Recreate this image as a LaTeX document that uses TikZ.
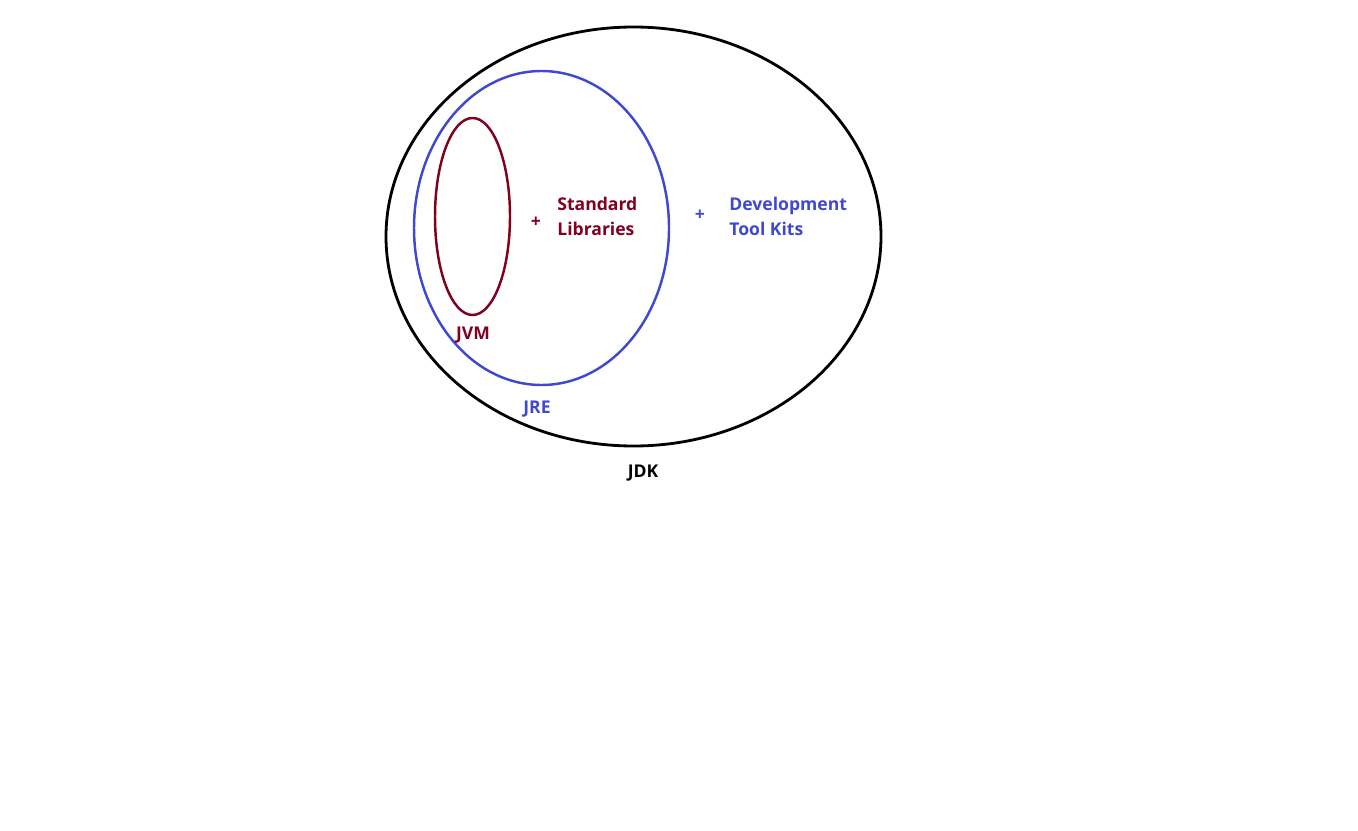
\documentclass[tikz,border=0pt]{standalone}
\usepackage{fontspec}
\setmainfont{Open Sans}
\usepackage{xcolor}
\usepackage{tikz}
\definecolor{jvmred}{RGB}{128,0,32}
\definecolor{jreblue}{RGB}{64,72,208}
\tikzset{
  lbl/.style={font=\bfseries\fontsize{10}{14.2}\selectfont, inner sep=0pt, align=left},
}

\begin{document}
\begin{tikzpicture}[x=0.02cm, y=-0.02cm]
  \useasboundingbox (0,0) rectangle (1358,831);

  %% Nested ellipses
  \draw[black, line width=1.6pt] (633.5,236.5) ellipse [x radius=247.5, y radius=209.5];
  \draw[jreblue, line width=1.4pt] (541.5,228) ellipse [x radius=127.5, y radius=157];
  \draw[jvmred, line width=1.4pt] (472.5,216.5) ellipse [x radius=37.5, y radius=98.5];

  %% Labels
  \node[lbl, color=jvmred] (plusA) at (536,222) {+};
  \node[lbl, color=jvmred, anchor=west] (stdlib) at (557,216) {Standard\\Libraries};
  \node[lbl, color=jreblue] (plusB) at (700,215) {+};
  \node[lbl, color=jreblue, anchor=west] (devkit) at (729,216) {Development\\Tool Kits};

  \node[lbl, color=jvmred] (jvm) at (473,335) {JVM};
  \node[lbl, color=jreblue] (jre) at (537,409) {JRE};
  \node[lbl, color=black] (jdk) at (643,473) {JDK};
\end{tikzpicture}
\end{document}
